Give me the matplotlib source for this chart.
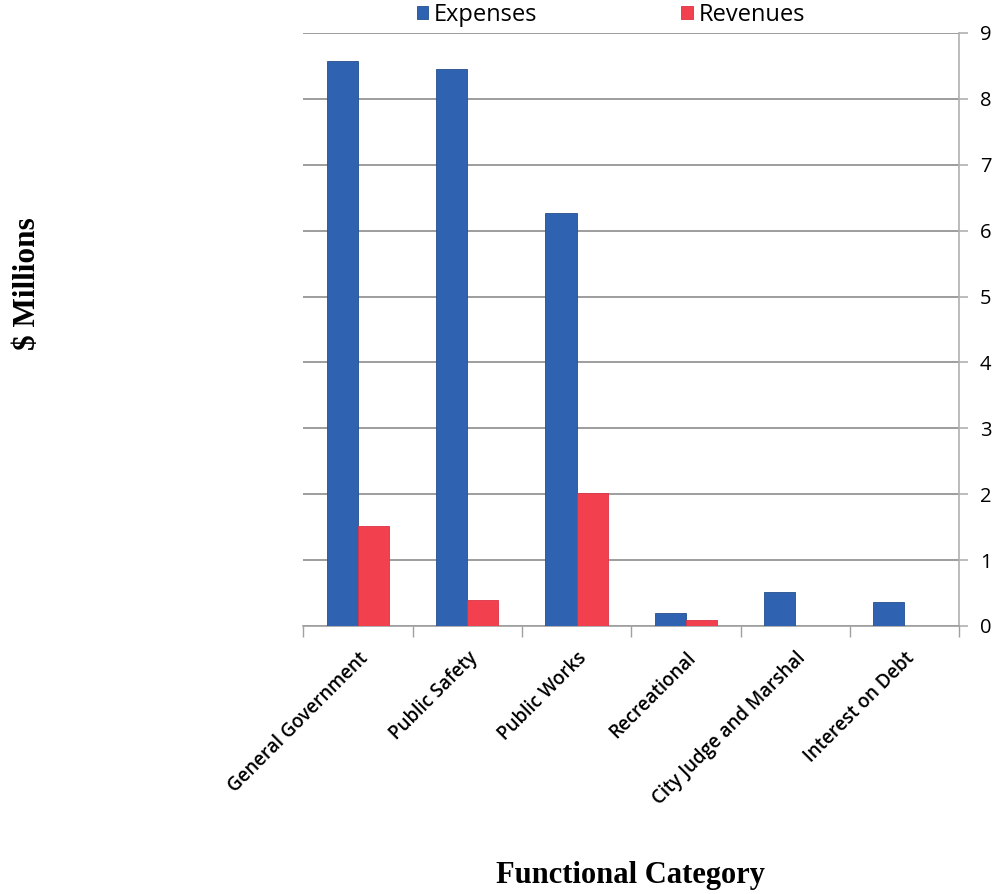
import numpy as np
import matplotlib.pyplot as plt

categories = ['General Government', 'Public Safety', 'Public Works',
              'Recreational', 'City Judge and Marshal', 'Interest on Debt']
expenses = [8.57, 8.45, 6.27, 0.19, 0.52, 0.36]
revenues = [1.52, 0.40, 2.02, 0.09, 0.0, 0.0]
yTicks = [0, 1, 2, 3, 4, 5, 6, 7, 8, 9]

blue = '#2F62B0'
red = '#F2404F'
gridColor = '#8C8C8C'
sansFont = ['Open Sans', 'DejaVu Sans']
serifFont = ['Liberation Serif', 'DejaVu Serif']

fig = plt.figure(figsize=(9.98, 8.94), dpi=100)
ax = fig.add_axes([0.304, 0.2998, 0.657, 0.6633])

x = np.arange(len(categories))
width = 0.285
ax.bar(x - width / 2, expenses, width, color=blue, edgecolor='#24508F',
       linewidth=0.6, label='Expenses', zorder=3)
ax.bar(x + width / 2, revenues, width, color=red, edgecolor='#D93343',
       linewidth=0.6, label='Revenues', zorder=3)

ax.set_xlim(-0.5, len(categories) - 0.5)
ax.set_ylim(0, 9)

# value axis on the right, grid across the plot
ax.yaxis.tick_right()
ax.set_yticks(yTicks)
ax.set_yticklabels([str(t) for t in yTicks], fontfamily=sansFont, fontsize=14.5)
ax.tick_params(axis='y', length=6.5, width=1.2, color='#B0B0B0', pad=8.5)
for t in yTicks:
    ax.axhline(t, color=gridColor, linewidth=1.2, zorder=1)

# category boundaries as tick marks
ax.set_xticks(np.arange(-0.5, len(categories), 1.0), minor=False)
ax.set_xticklabels([])
ax.tick_params(axis='x', which='major', length=8, width=1.0, color='#A0A0A0', direction='out')
ax.set_xticks(x, minor=True)
ax.set_xticklabels(categories, minor=True, rotation=45, ha='right',
                   rotation_mode='anchor', fontfamily=sansFont, fontsize=13.5,
                   fontweight='semibold')
ax.tick_params(axis='x', which='minor', length=0, pad=16)

for side in ['left', 'top']:
    ax.spines[side].set_visible(False)
ax.spines['right'].set_color('#B0B0B0')
ax.spines['right'].set_linewidth(1.2)
ax.spines['bottom'].set_color('#A0A0A0')
ax.spines['bottom'].set_linewidth(1.2)

leg = ax.legend(loc='center', bbox_to_anchor=(0.469, 1.03), ncol=2,
                frameon=False, prop={'family': sansFont, 'size': 17},
                handlelength=0.47, handleheight=0.47, handletextpad=0.25,
                columnspacing=6.1, borderaxespad=0, borderpad=0)

fig.text(0.028, 0.683, '$ Millions', rotation=90, ha='center', va='center',
         fontfamily=serifFont, fontweight='bold', fontsize=22.5)
fig.text(0.632, 0.021, 'Functional Category', ha='center', va='center',
         fontfamily=serifFont, fontweight='bold', fontsize=22)

fig.savefig('out.png', dpi=100)
